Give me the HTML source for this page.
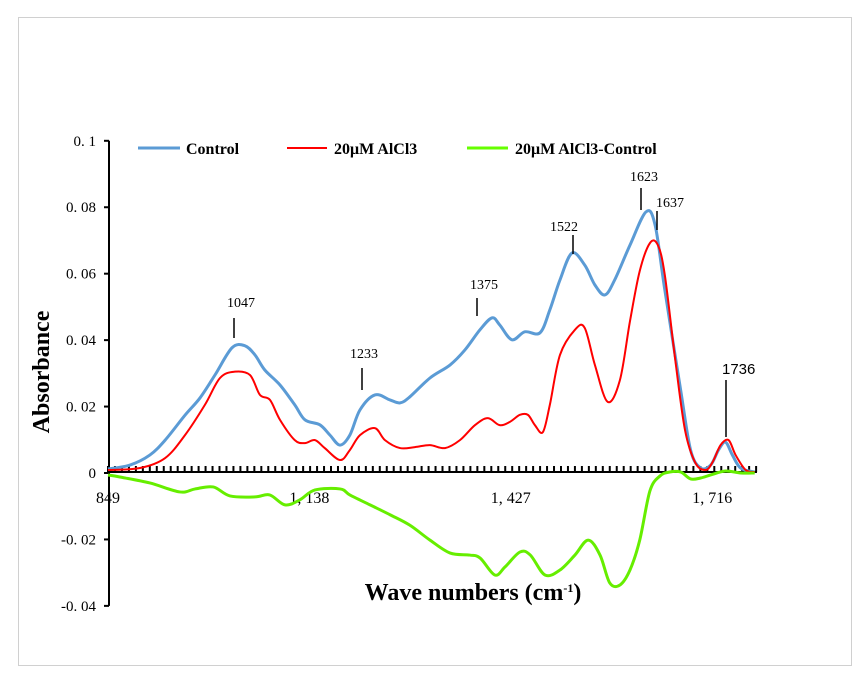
<!DOCTYPE html>
<html><head><meta charset="utf-8"><style>
body{margin:0;background:#fff;}
svg text{font-family:"Liberation Serif",serif;}
</style></head><body>
<svg id="c" width="868" height="683" xmlns="http://www.w3.org/2000/svg">
<rect x="18.5" y="17.5" width="833" height="648" fill="#fff" stroke="#d0d0d0"/>
<g id="axes"></g>
<g id="series"></g>
<g id="ann"></g>
<g>
<line x1="138" y1="148" x2="180" y2="148" stroke="#5b9bd5" stroke-width="3"/>
<text x="186" y="154" font-size="16" font-weight="bold">Control</text>
<line x1="287" y1="148" x2="327" y2="148" stroke="#ff0000" stroke-width="2"/>
<text x="334" y="154" font-size="16" font-weight="bold">20μM AlCl3</text>
<line x1="467" y1="148" x2="508" y2="148" stroke="#66ff00" stroke-width="3"/>
<text x="515" y="154" font-size="16" font-weight="bold">20μM AlCl3-Control</text>
</g>
<text transform="translate(49,372) rotate(-90)" text-anchor="middle" font-size="24" font-weight="bold">Absorbance</text>
<text x="473" y="600" text-anchor="middle" font-size="24" font-weight="bold">Wave numbers (cm<tspan font-size="12" dy="-8">-1</tspan><tspan dy="8">)</tspan></text>
</svg>
<script>
const ctrlX=[849,880.6,909,931,959.5,981,1002.5,1027,1045.6,1060,1074,1095.8,1117,1131.6,1153,1167.5,1181.9,1196,1210.6,1232,1253.6,1268,1282,1311,1339.7,1361,1382.7,1400,1411,1428.6,1447,1468.8,1483,1497.5,1514.7,1533,1547.7,1562,1576,1598,1621,1634,1648,1670.7,1685,1699.4,1713.8,1725,1735,1745,1756.7,1777];
const ctrlY=[.0012,.0024,.0054,.0099,.0174,.0226,.0295,.0377,.0383,.0355,.0310,.0265,.0205,.0160,.0145,.0114,.0084,.0114,.0190,.0235,.0220,.0211,.0229,.0286,.0325,.0370,.0431,.0467,.0446,.0401,.0425,.0422,.0491,.0581,.0662,.0626,.0566,.0536,.0581,.0686,.0786,.0747,.0551,.0250,.0069,.0015,.0024,.0069,.0093,.0054,.0015,.0003];
const alX=[849,895,931,959.5,988,1009.7,1031,1052.7,1067,1081.4,1095.8,1117,1131.6,1146,1160,1182,1196,1210.6,1232,1246.4,1268,1289.5,1311,1332.5,1354,1375.5,1394,1411,1425.7,1440,1451.6,1461.6,1473,1483,1497.5,1519,1533,1547.7,1566,1583.6,1598,1612,1626.6,1638,1648,1663,1677,1692,1706.6,1716.6,1728,1739.5,1749.6,1764,1777];
const alY=[.0009,.0015,.0045,.0114,.0205,.0286,.0305,.0295,.0235,.0220,.0160,.0099,.0090,.0099,.0075,.0039,.0069,.0114,.0135,.0099,.0075,.0078,.0084,.0075,.0099,.0144,.0165,.0144,.0154,.0175,.0175,.0144,.0123,.0205,.0355,.0431,.0437,.0325,.0214,.0280,.0457,.0608,.0692,.0686,.0596,.0340,.0129,.0030,.0009,.0033,.0084,.0099,.0054,.0009,.0003];
const dX=[849,866,909,952,974,1000,1024,1060,1081,1103,1124,1146,1182,1196,1225,1254,1282,1311,1340,1368,1383,1404,1418.6,1440,1455,1476,1497.5,1519,1538,1555,1569,1583.6,1598,1612,1626.6,1641,1655,1670.7,1685,1699.4,1713.8,1735,1756.7,1777];
const dY=[-.0006,-.0012,-.0030,-.0057,-.0048,-.0042,-.0069,-.0072,-.0066,-.0096,-.0081,-.0051,-.0048,-.0066,-.0096,-.0126,-.0157,-.0202,-.0241,-.0247,-.0256,-.0307,-.0283,-.0238,-.0247,-.0307,-.0292,-.0247,-.0202,-.0247,-.0331,-.0337,-.0292,-.0202,-.0054,-.0009,.0003,.0003,-.0018,-.0015,-.0006,.0006,0,0];
const yTicks=[0.1,0.08,0.06,0.04,0.02,0,-0.02,-0.04];
const yTickLabels=["0. 1","0. 08","0. 06","0. 04","0. 02","0","-0. 02","-0. 04"];
const xTicks=[849,1138,1427,1716];
const xTickLabels=["849","1, 138","1, 427","1, 716"];
const peaks=[1047,1233,1375,1522,1623,1637,1736];

const NS="http://www.w3.org/2000/svg";
const X=w=>108+(w-849)*0.6969;
const Y=v=>473-v*3322;
function mk(tag,attrs,parent){const e=document.createElementNS(NS,tag);for(const k in attrs)e.setAttribute(k,attrs[k]);parent.appendChild(e);return e;}
const axes=document.getElementById('axes'),ser=document.getElementById('series'),ann=document.getElementById('ann');
let ya=mk('line',{x1:109,y1:Y(0.1),x2:109,y2:Y(-0.04),stroke:'#000','stroke-width':2},axes);


yTicks.forEach((v,i)=>{
 const t=mk('line',{x1:104,y1:Y(v),x2:109,y2:Y(v),stroke:'#000','stroke-width':2},axes);
 
 
 const l=mk('text',{x:96,y:Y(v)+5,'text-anchor':'end','font-size':15},axes);
 l.textContent=yTickLabels[i];
 
 
});
let xa=mk('line',{x1:108,y1:472,x2:757,y2:472,stroke:'#000','stroke-width':2},axes);


for(let w=849;w<=1780;w+=10){
 const t=mk('line',{x1:X(w),y1:466,x2:X(w),y2:472,stroke:'#000','stroke-width':2},axes);
 
 
}
xTicks.forEach((w,i)=>{
 const l=mk('text',{x:X(w),y:503,'text-anchor':'middle','font-size':16},axes);
 l.textContent=xTickLabels[i];
 
 
});
function path(xs,ys){
 const p=xs.map((w,i)=>[X(w),Y(ys[i])]);
 let d=`M${p[0][0]},${p[0][1]}`;
 for(let i=0;i<p.length-1;i++){
  const p0=p[Math.max(0,i-1)],p1=p[i],p2=p[i+1],p3=p[Math.min(p.length-1,i+2)];
  const c1=[p1[0]+(p2[0]-p0[0])/6,p1[1]+(p2[1]-p0[1])/6],c2=[p2[0]-(p3[0]-p1[0])/6,p2[1]-(p3[1]-p1[1])/6];
  d+=` C${c1[0]},${c1[1]} ${c2[0]},${c2[1]} ${p2[0]},${p2[1]}`;
 }
 return d;
}
const s1=mk('path',{d:path(ctrlX,ctrlY),fill:'none',stroke:'#5b9bd5','stroke-width':3},ser);


const s2=mk('path',{d:path(alX,alY),fill:'none',stroke:'#ff0000','stroke-width':2},ser);


const s3=mk('path',{d:path(dX,dY),fill:'none',stroke:'#66ee00','stroke-width':3},ser);


const annPos=[[227,307,234,318,338,14],[350,358,362,368,390,14],[470,289,477,298,316,14],[550,231,573,235,254,14],[630,181,641,188,210,14],[656,207,657,211,230,14],[722,374,726,380,437,15]];
peaks.forEach((p,i)=>{
 const a=annPos[i];
 const t=mk('text',{x:a[0],y:a[1],'font-size':a[5]},ann);
 if(i===6)t.setAttribute('style','font-family:"Liberation Sans",sans-serif');
 t.textContent=String(p);
 
 
 const l=mk('line',{x1:a[2],y1:a[3],x2:a[2],y2:a[4],stroke:'#000','stroke-width':1.5},ann);
 
 
});
</script>
</body></html>
